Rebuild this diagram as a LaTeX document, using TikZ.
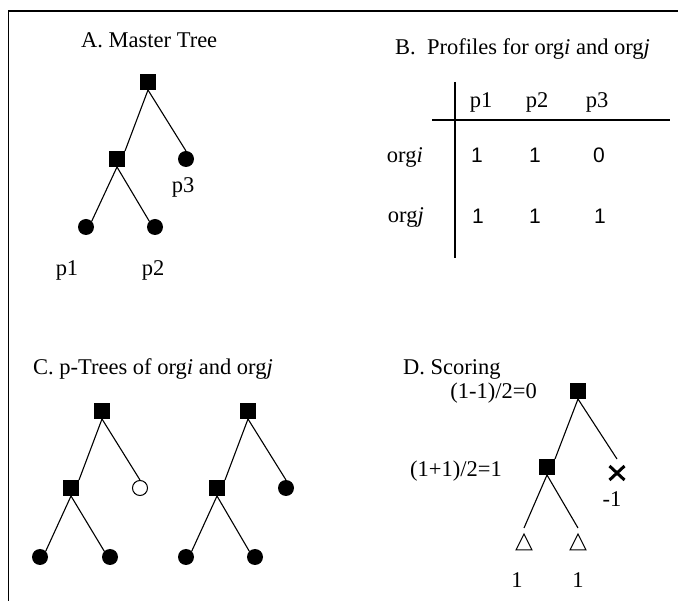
\documentclass[tikz,border=0pt]{standalone}
\usepackage{fontspec}
\setmainfont{Liberation Serif}
\newfontfamily\arialfont{Liberation Sans}
\usetikzlibrary{shapes.misc}
\begin{document}
\begin{tikzpicture}[x=1pt,y=-1pt,
  every node/.style={font=\fontsize{22.5}{27}\selectfont, inner sep=0},
  sq/.style={fill=black, minimum size=16, inner sep=0, outer sep=0},
  leaf/.style={circle, fill=black, minimum size=16, inner sep=0, outer sep=0},
  openleaf/.style={circle, draw=black, fill=white, line width=1, minimum size=15, inner sep=0},
  edge/.style={line width=1.1},
  frame/.style={line width=1.5},
  digit/.style={font=\arialfont\fontsize{21}{25}\selectfont, anchor=base},
  lbl/.style={anchor=base},
  title/.style={anchor=base west},
  crossmark/.style={cross out, draw=black, line width=3, minimum width=15, minimum height=14, inner sep=0, outer sep=0},
  tri/.style={minimum width=16, minimum height=16, inner sep=0, outer sep=0,
    append after command={\pgfextra{\draw[line width=1] (\tikzlastnode.south west) -- (\tikzlastnode.south east) -- (\tikzlastnode.north) -- cycle;}}}
]
\useasboundingbox (0,0) rectangle (678,601);

% frame
\coordinate (fb) at (8.5,601);
\coordinate (ftl) at (8.5,11);
\coordinate (ftr) at (678,11);
\draw[frame] (fb) -- (ftl) -- (ftr);

% ---------- A ----------
\node[title] (ta) at (81,48) {A. Master Tree};
\node[sq] (aroot) at (148,82) {};
\node[sq] (amid) at (117,159) {};
\node[leaf] (ap3) at (186,159) {};
\node[leaf] (ap1) at (86,227) {};
\node[leaf] (ap2) at (155,227) {};
\draw[edge] (aroot.south) -- (amid.north east);
\draw[edge] (aroot.south) -- (ap3.north);
\draw[edge] (amid.south) -- (ap1.north east);
\draw[edge] (amid.south) -- (ap2.north west);
\node[lbl] (lp3) at (183,193) {p3};
\node[lbl] (lp1) at (67,276) {p1};
\node[lbl] (lp2) at (153,276) {p2};

% ---------- B ----------
\node[title] (tb) at (395,55) {B.\ \ Profiles for org\textit{i} and org\textit{j}};
\coordinate (vtop) at (455,82);
\coordinate (vbot) at (455,258);
\coordinate (hl) at (432,120);
\coordinate (hr) at (670,120);
\draw[line width=1.1] (vtop) -- (vbot);
\draw[line width=1.1] (hl) -- (hr);
\node[lbl] (h1) at (481,108) {p1};
\node[lbl] (h2) at (537,108) {p2};
\node[lbl] (h3) at (597,108) {p3};
\node[anchor=base east] (ri) at (423,163) {org\textit{i}};
\node[anchor=base east] (rj) at (424,223) {org\textit{j}};
\node[digit] (d11) at (477,163) {1};
\node[digit] (d12) at (535,163) {1};
\node[digit] (d13) at (599,163) {0};
\node[digit] (d21) at (478,224) {1};
\node[digit] (d22) at (535,224) {1};
\node[digit] (d23) at (600,224) {1};

% ---------- C ----------
\node[title] (tc) at (33,375) {C. p-Trees of org\textit{i} and org\textit{j}};
\node[sq] (croot) at (102,411) {};
\node[sq] (cmid) at (71,488) {};
\node[openleaf] (cp3) at (140,488) {};
\node[leaf] (cp1) at (40,557) {};
\node[leaf] (cp2) at (110,557) {};
\draw[edge] (croot.south) -- (cmid.north east);
\draw[edge] (croot.south) -- (cp3.north);
\draw[edge] (cmid.south) -- (cp1.north east);
\draw[edge] (cmid.south) -- (cp2.north west);

\node[sq] (eroot) at (248,411) {};
\node[sq] (emid) at (217,488) {};
\node[leaf] (ep3) at (286,488) {};
\node[leaf] (ep1) at (186,557) {};
\node[leaf] (ep2) at (255,557) {};
\draw[edge] (eroot.south) -- (emid.north east);
\draw[edge] (eroot.south) -- (ep3.north);
\draw[edge] (emid.south) -- (ep1.north east);
\draw[edge] (emid.south) -- (ep2.north west);

% ---------- D ----------
\node[title] (td) at (403,375) {D. Scoring};
\node[sq] (droot) at (578,391) {};
\node[sq] (dmid) at (547,467) {};
\node[crossmark] (dx) at (617,473) {};
\node[tri] (dt1) at (524,542) {};
\node[tri] (dt2) at (578,542) {};
\draw[edge] (droot.south) -- (dmid.north east);
\draw[edge] (droot.south) -- ([yshift=7pt]dx.north);
\draw[edge] (dmid.south) -- ([yshift=6pt]dt1.north);
\draw[edge] (dmid.south) -- ([yshift=6pt]dt2.north);
\node[anchor=base east] (s0) at (537,399) {(1-1)/2=0};
\node[anchor=base east] (s1) at (502,477) {(1+1)/2=1};
\node[lbl] (sm1) at (612,507) {-1};
\node[lbl] (sl1) at (517,587) {1};
\node[lbl] (sl2) at (578,587) {1};
\end{tikzpicture}
\end{document}
